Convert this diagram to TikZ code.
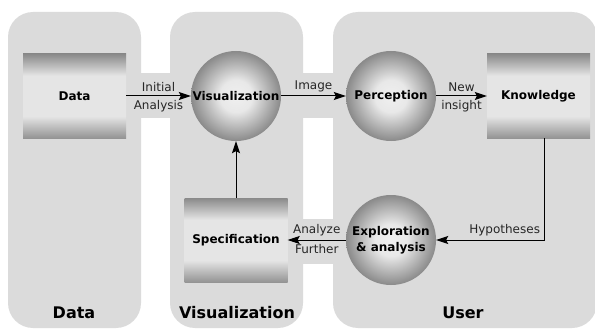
\documentclass[tikz,border=0pt]{standalone}
\usepackage{fontspec}
\setmainfont{DejaVu Sans}
\usetikzlibrary{arrows.meta}

\definecolor{panelgray}{gray}{0.86}
\pgfdeclareverticalshading{boxshade}{100bp}{color(0bp)=(black!45); color(25bp)=(black!42); color(38bp)=(black!10); color(62bp)=(black!10); color(75bp)=(black!46); color(100bp)=(black!46)}
\pgfdeclareradialshading{ballshade}{\pgfpoint{0bp}{0bp}}{color(0bp)=(black!6); color(9bp)=(black!9); color(25bp)=(black!46); color(50bp)=(black!46)}

\begin{document}
\begin{tikzpicture}[x=1pt,y=-1pt,
  panel/.style={fill=panelgray, rounded corners=25pt},
  boxnode/.style={rectangle, shading=boxshade, minimum width=103pt, minimum height=84pt, font=\fontsize{12}{14}\selectfont\bfseries},
  ballnode/.style={circle, shading=ballshade, minimum size=90pt, inner sep=0pt, align=center, font=\fontsize{12}{16}\selectfont\bfseries},
  flow/.style={-{Stealth[length=12pt,width=8pt,inset=2pt]}, line width=1pt},
  lbl/.style={font=\fontsize{12}{14}\selectfont, text=black!85, inner sep=3.5pt},
  title/.style={font=\fontsize{16}{18}\selectfont\bfseries}]
\useasboundingbox (0,0) rectangle (595,329);
% panels and the strips between them
\fill[panel] (8,12) rectangle (141,328);
\fill[panel] (170,12) rectangle (303,328);
\fill[panel] (333,12) rectangle (597,328);
\fill[panelgray] (140,73) rectangle (171,118);
\fill[panelgray] (302,73) rectangle (334,118);
\fill[panelgray] (302,219) rectangle (334,264);
% nodes
\node[boxnode] (data) at (74.5,96) {Data};
\node[ballnode] (vis) at (236,96) {Visualization};
\node[ballnode] (perc) at (391,96) {Perception};
\node[boxnode] (know) at (538.5,96) {Knowledge};
\node[boxnode] (spec) at (236,240) {Specification};
\node[ballnode] (expl) at (391,240) {Exploration\\\& analysis};
% arrows
\draw[flow] (data) -- node[lbl,above]{Initial} node[lbl,below]{Analysis} (vis);
\draw[flow] (vis) -- node[lbl,above]{Image} (perc);
\draw[flow] (perc) -- node[lbl,above]{New} node[lbl,below]{insight} (know);
\draw[flow] (spec) -- (vis);
\draw[flow] (expl) -- node[lbl,above]{Analyze} node[lbl,below]{Further} (spec);
\draw[flow] ([xshift=5.5pt]know.south) |- node[lbl,pos=0.5,above left]{Hypotheses} (expl);
% panel titles
\node[title] (tdata) at (74,313) {Data};
\node[title] (tvis) at (237,313) {Visualization};
\node[title] (tuser) at (463,313) {User};
\end{tikzpicture}
\end{document}
